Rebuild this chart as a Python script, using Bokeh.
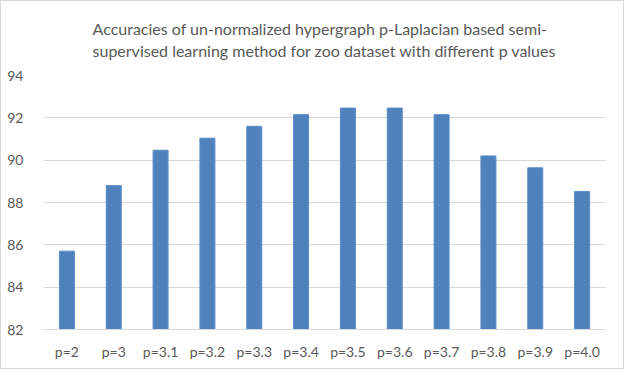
from bokeh.plotting import figure
from bokeh.models import FixedTicker
from bokeh.embed import file_html
from bokeh.resources import INLINE

categories = ["p=2", "p=3", "p=3.1", "p=3.2", "p=3.3", "p=3.4",
              "p=3.5", "p=3.6", "p=3.7", "p=3.8", "p=3.9", "p=4.0"]
accuracies = [85.7, 88.8, 90.47, 91.04, 91.6, 92.15,
              92.46, 92.46, 92.15, 90.2, 89.64, 88.52]
y_ticks = [82, 84, 86, 88, 90, 92, 94]
title_text = ("Accuracies of un-normalized hypergraph p-Laplacian based semi-\n"
              "supervised learning method for zoo dataset with different p values")

FONT = "Lato"
GRAY = "#595959"

p = figure(x_range=categories, y_range=(82, 94), width=624, height=369,
           output_backend="svg", toolbar_location=None,
           min_border_left=42, min_border_right=20, min_border_top=15,
           min_border_bottom=41)
p.x_range.range_padding = 0

p.vbar(x=categories, top=accuracies, bottom=82, width=0.32,
       fill_color="#4f81bd", line_color="#5b8cc8", line_width=1)

p.title.text = title_text
p.title.align = "center"
p.title.text_font = FONT
p.title.text_font_size = "16px"
p.title.text_font_style = "normal"
p.title.text_color = GRAY
p.title.text_line_height = 1.15
p.title.offset = 0
p.title.standoff = 31

p.outline_line_color = None
p.background_fill_color = "white"
p.border_fill_color = "white"

p.yaxis.ticker = FixedTicker(ticks=y_ticks)
p.yaxis.axis_line_color = None
p.yaxis.major_tick_line_color = None
p.yaxis.minor_tick_line_color = None
p.yaxis.major_label_standoff = 14
p.yaxis.major_label_text_font = FONT
p.yaxis.major_label_text_font_size = "14px"
p.yaxis.major_label_text_color = GRAY

p.xaxis.axis_line_color = "#d9d9d9"
p.xaxis.major_tick_line_color = None
p.xaxis.minor_tick_line_color = None
p.xaxis.major_label_standoff = 7
p.xaxis.major_label_text_font = FONT
p.xaxis.major_label_text_font_size = "14px"
p.xaxis.major_label_text_color = GRAY

p.xgrid.grid_line_color = None
p.ygrid.grid_line_color = "#d9d9d9"
p.ygrid.grid_line_width = 1

p.styles = {"border": "1px solid #d9d9d9"}

open("out.html", "w").write(file_html(p, INLINE))
